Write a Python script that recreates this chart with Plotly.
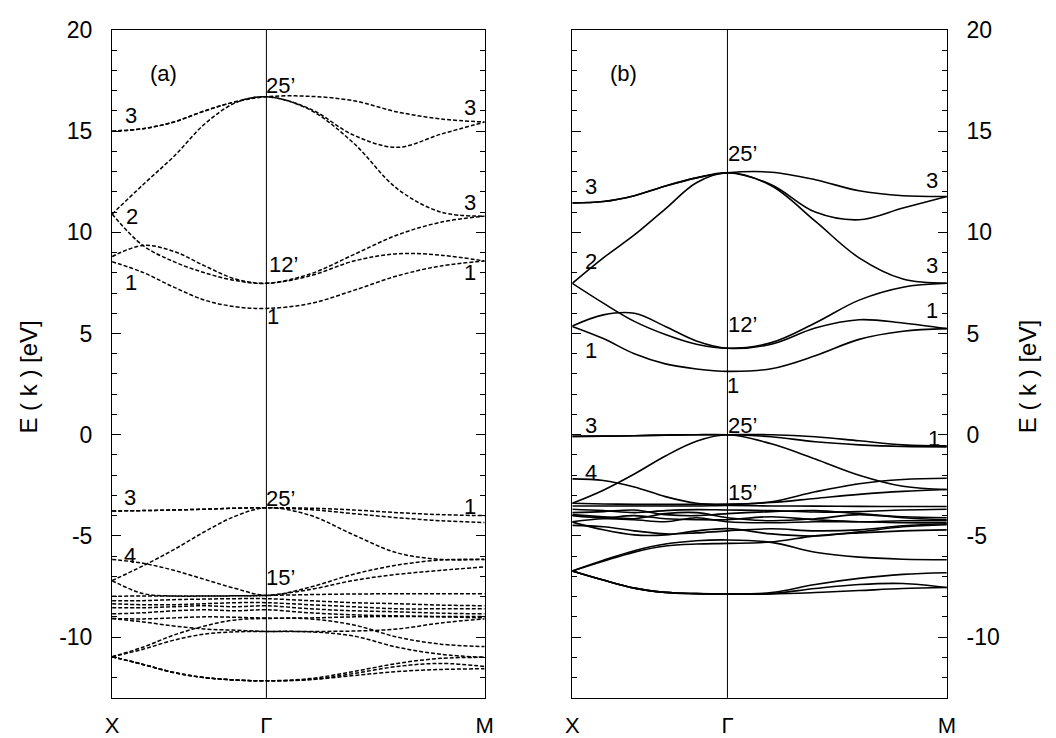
import plotly.graph_objects as go

# ---------------- data ----------------
# fractions along X-Gamma and Gamma-M segments
K_XG = [0.0, 0.2, 0.4, 0.6, 0.8, 1.0]
K_GM = [0.2, 0.4, 0.6, 0.8, 1.0]
GM_LENGTH = 2 ** 0.5
k_path = K_XG + [1.0 + f * GM_LENGTH for f in K_GM]
k_ticks = [0.0, 1.0, 1.0 + GM_LENGTH]
k_labels = ["X", "Γ", "M"]

# panel (a): energies [X, .2, .4, .6, .8, Gamma, .2, .4, .6, .8, M]
bands_a = [
    [15.0, 15.12, 15.45, 16.0, 16.45, 16.7, 16.72, 16.5, 15.95, 15.6, 15.45],
    [15.0, 15.12, 15.45, 16.0, 16.45, 16.7, 16.1, 14.8, 14.2, 14.85, 15.45],
    [10.9, 12.35, 13.75, 15.35, 16.4, 16.7, 16.05, 14.4, 12.15, 11.0, 10.8],
    [10.9, 9.35, 8.55, 8.0, 7.62, 7.48, 7.94, 8.9, 9.87, 10.5, 10.8],
    [8.8, 9.35, 9.06, 8.34, 7.69, 7.48, 7.85, 8.58, 8.94, 8.87, 8.58],
    [8.55, 8.02, 7.29, 6.65, 6.32, 6.24, 6.48, 7.13, 7.85, 8.34, 8.58],
    [-3.77, -3.75, -3.72, -3.68, -3.63, -3.61, -3.63, -3.72, -3.85, -3.95, -4.0],
    [-3.77, -3.75, -3.72, -3.68, -3.63, -3.61, -3.7, -3.9, -4.1, -4.25, -4.34],
    [-7.21, -6.48, -5.68, -4.79, -4.02, -3.61, -3.98, -4.95, -5.84, -6.16, -6.16],
    [-6.16, -6.35, -6.7, -7.15, -7.6, -7.94, -7.53, -6.89, -6.44, -6.19, -6.16],
    [-7.21, -7.85, -7.97, -7.97, -7.96, -7.94, -7.65, -7.2, -6.9, -6.7, -6.53],
    [-7.98, -7.97, -7.97, -7.97, -7.96, -7.94, -7.9, -7.87, -7.86, -7.86, -7.86],
    [-8.2, -8.2, -8.15, -8.12, -8.1, -8.1, -8.2, -8.3, -8.35, -8.42, -8.45],
    [-8.35, -8.4, -8.4, -8.35, -8.3, -8.3, -8.4, -8.5, -8.6, -8.6, -8.6],
    [-8.55, -8.55, -8.5, -8.45, -8.5, -8.45, -8.6, -8.7, -8.75, -8.82, -8.85],
    [-8.85, -8.8, -8.7, -8.65, -8.7, -8.65, -8.8, -8.9, -8.95, -8.98, -8.98],
    [-9.08, -9.1, -9.05, -9.0, -9.02, -9.06, -9.05, -9.0, -8.98, -9.0, -9.05],
    [-9.08, -9.25, -9.45, -9.6, -9.66, -9.72, -9.72, -9.7, -9.6, -9.3, -9.1],
    [-10.97, -10.5, -9.9, -9.45, -9.15, -9.08, -9.1, -9.4, -10.0, -10.35, -10.47],
    [-10.97, -10.6, -10.15, -9.85, -9.74, -9.72, -9.74, -9.95, -10.5, -10.85, -11.0],
    [-10.97, -11.35, -11.75, -12.0, -12.12, -12.16, -12.05, -11.7, -11.3, -11.05, -11.0],
    [-10.97, -11.35, -11.75, -12.0, -12.12, -12.16, -12.1, -11.8, -11.45, -11.3, -11.45],
    [-10.97, -11.35, -11.75, -12.0, -12.12, -12.16, -12.1, -11.9, -11.7, -11.6, -11.56],
]

# panel (b)
bands_b = [
    [11.45, 11.52, 11.81, 12.29, 12.69, 12.94, 12.97, 12.6, 12.05, 11.81, 11.77],
    [11.45, 11.52, 11.81, 12.29, 12.69, 12.94, 12.35, 11.0, 10.62, 11.2, 11.77],
    [7.48, 8.74, 9.87, 11.16, 12.45, 12.94, 12.3, 10.55, 8.74, 7.69, 7.48],
    [7.48, 6.5, 5.6, 4.95, 4.47, 4.27, 4.55, 5.52, 6.65, 7.29, 7.48],
    [5.37, 5.92, 6.0, 5.35, 4.63, 4.27, 4.47, 5.27, 5.68, 5.52, 5.24],
    [5.35, 4.75, 4.0, 3.5, 3.25, 3.13, 3.26, 3.9, 4.71, 5.11, 5.24],
    [-0.08, -0.07, -0.05, -0.02, 0.0, 0.0, 0.0, -0.1, -0.3, -0.5, -0.55],
    [-0.08, -0.07, -0.05, -0.02, 0.0, 0.0, -0.1, -0.35, -0.5, -0.58, -0.6],
    [-3.39, -2.74, -1.94, -1.05, -0.32, 0.0, -0.45, -1.2, -2.0, -2.55, -2.71],
    [-2.18, -2.26, -2.58, -3.06, -3.39, -3.44, -3.31, -2.82, -2.42, -2.21, -2.15],
    [-3.39, -3.42, -3.44, -3.44, -3.44, -3.44, -3.35, -3.15, -2.95, -2.8, -2.71],
    [-3.52, -3.52, -3.52, -3.52, -3.52, -3.5, -3.52, -3.53, -3.54, -3.55, -3.55],
    [-3.68, -3.75, -3.85, -3.75, -3.7, -3.72, -3.75, -3.82, -3.8, -3.72, -3.68],
    [-3.85, -3.8, -3.72, -3.95, -4.0, -3.9, -3.8, -3.75, -3.9, -4.05, -4.1],
    [-3.95, -4.05, -4.15, -3.9, -3.85, -4.1, -4.25, -4.15, -3.95, -4.1, -4.2],
    [-4.0, -4.1, -4.0, -4.15, -4.2, -4.2, -4.05, -4.2, -4.3, -4.25, -4.25],
    [-4.3, -4.15, -4.2, -4.3, -4.1, -4.3, -4.35, -4.3, -4.3, -4.35, -4.35],
    [-4.32, -4.7, -4.95, -4.95, -4.75, -4.64, -4.9, -5.0, -4.8, -4.55, -4.45],
    [-4.48, -4.55, -4.75, -4.9, -4.85, -4.75, -4.65, -4.75, -4.7, -4.5, -4.4],
    [-6.73, -6.2, -5.73, -5.4, -5.24, -5.2, -5.32, -5.81, -6.05, -6.15, -6.18],
    [-6.73, -6.25, -5.8, -5.5, -5.4, -5.37, -5.3, -5.0, -4.85, -4.75, -4.7],
    [-6.73, -7.18, -7.58, -7.79, -7.85, -7.87, -7.8, -7.4, -7.1, -6.9, -6.82],
    [-6.73, -7.18, -7.58, -7.79, -7.85, -7.87, -7.85, -7.6, -7.4, -7.35, -7.55],
    [-6.73, -7.18, -7.58, -7.79, -7.85, -7.87, -7.87, -7.8, -7.7, -7.6, -7.55],
]

# symmetry labels: (text, k, E)
labels_a = [
    ("(a)", 0.33, 17.84), ("3", 0.12, 15.76), ("2", 0.127, 10.77), ("1", 0.12, 7.53),
    ("25’", 1.09, 17.26), ("12’", 1.11, 8.4), ("1", 1.04, 5.84),
    ("3", 2.317, 16.16), ("3", 2.317, 11.48), ("1", 2.32, 8.02),
    ("3", 0.117, -3.11), ("25’", 1.09, -3.16), ("1", 2.317, -3.55),
    ("4", 0.117, -5.98), ("15’", 1.09, -7.06),
]
labels_b = [
    ("(b)", 0.33, 17.85), ("3", 0.12, 12.26), ("2", 0.12, 8.58), ("1", 0.12, 4.15),
    ("25’", 1.095, 13.87), ("12’", 1.095, 5.44),
    ("3", 2.32, 12.58), ("3", 2.32, 8.34), ("1", 2.32, 6.13), ("1", 1.036, 2.45),
    ("3", 0.12, 0.44), ("25’", 1.095, 0.44), ("1", 2.33, -0.2),
    ("4", 0.12, -1.87), ("15’", 1.095, -2.84),
]

y_ticks = [-10, -5, 0, 5, 10, 15, 20]
y_tick_text = ["-10", "-5", "0", "5", "10", "15", "20"]
y_minor_ticks = list(range(-13, 21))
E_RANGE = [-13, 20]
Y_TITLE = "E ( k ) [eV]"

# ---------------- figure ----------------
FONT = "Liberation Sans, Arial, Helvetica, sans-serif"
W, H = 1056, 738
ydom = [1 - 700 / H, 1 - 17.3 / H]
xdom_a = [106.7 / W, 485 / W]
xdom_b = [574 / W, 954.3 / W]

fig = go.Figure()
for band in bands_a:
    fig.add_trace(go.Scatter(
        x=k_path, y=band, mode="lines", xaxis="x", yaxis="y",
        line=dict(color="black", width=1.5, dash="4px,2px", shape="spline"),
        showlegend=False, hoverinfo="skip"))
for band in bands_b:
    fig.add_trace(go.Scatter(
        x=k_path, y=band, mode="lines", xaxis="x2", yaxis="y2",
        line=dict(color="black", width=1.6, shape="spline"),
        showlegend=False, hoverinfo="skip"))

def yaxis(anchor, side):
    return dict(
        domain=ydom, range=E_RANGE, anchor=anchor, side=side,
        tickmode="array", tickvals=y_ticks, ticktext=y_tick_text,
        ticks="inside", ticklen=9, tickwidth=1, tickcolor="black",
        minor=dict(tickmode="array", tickvals=y_minor_ticks, ticks="inside", ticklen=5,
                   tickwidth=1, tickcolor="black", showgrid=False),
        showline=True, linecolor="black", linewidth=1.2, mirror="ticks",
        showgrid=False, zeroline=False, ticklabelstandoff=14,
        tickfont=dict(size=23, family=FONT, color="black"))

def xaxis(domain, anchor):
    return dict(
        domain=domain, range=[k_ticks[0], k_ticks[-1]], anchor=anchor,
        tickvals=k_ticks, ticktext=k_labels, ticks="",
        showline=True, linecolor="black", linewidth=1.2, mirror=True,
        showgrid=False, zeroline=False, ticklabelstandoff=8,
        tickfont=dict(size=22, family=FONT, color="black"))

annotations = []
for txt, k, e in labels_a:
    annotations.append(dict(x=k, y=e, xref="x", yref="y", text=txt, showarrow=False,
                            xanchor="center", yanchor="middle",
                            font=dict(size=22, family=FONT, color="black")))
for txt, k, e in labels_b:
    annotations.append(dict(x=k, y=e, xref="x2", yref="y2", text=txt, showarrow=False,
                            xanchor="center", yanchor="middle",
                            font=dict(size=22, family=FONT, color="black")))
for xp in (22 / W, 1037 / W):
    annotations.append(dict(x=xp, y=1 - 372 / H, xref="paper", yref="paper", text=Y_TITLE,
                            textangle=-90, showarrow=False, xanchor="center", yanchor="middle",
                            font=dict(size=24, family=FONT, color="black")))

shapes = [
    dict(type="line", xref="x", yref="y domain", x0=k_ticks[1], x1=k_ticks[1], y0=0, y1=1,
         line=dict(color="black", width=1)),
    dict(type="line", xref="x2", yref="y2 domain", x0=k_ticks[1], x1=k_ticks[1], y0=0, y1=1,
         line=dict(color="black", width=1)),
]

fig.update_layout(
    width=W, height=H, autosize=False,
    margin=dict(l=0, r=0, t=0, b=0),
    paper_bgcolor="white", plot_bgcolor="white",
    xaxis=xaxis(xdom_a, "y"), yaxis=yaxis("x", "left"),
    xaxis2=xaxis(xdom_b, "y2"), yaxis2=yaxis("x2", "right"),
    annotations=annotations, shapes=shapes,
    font=dict(family=FONT, color="black"),
)

fig.write_html("out.html")
